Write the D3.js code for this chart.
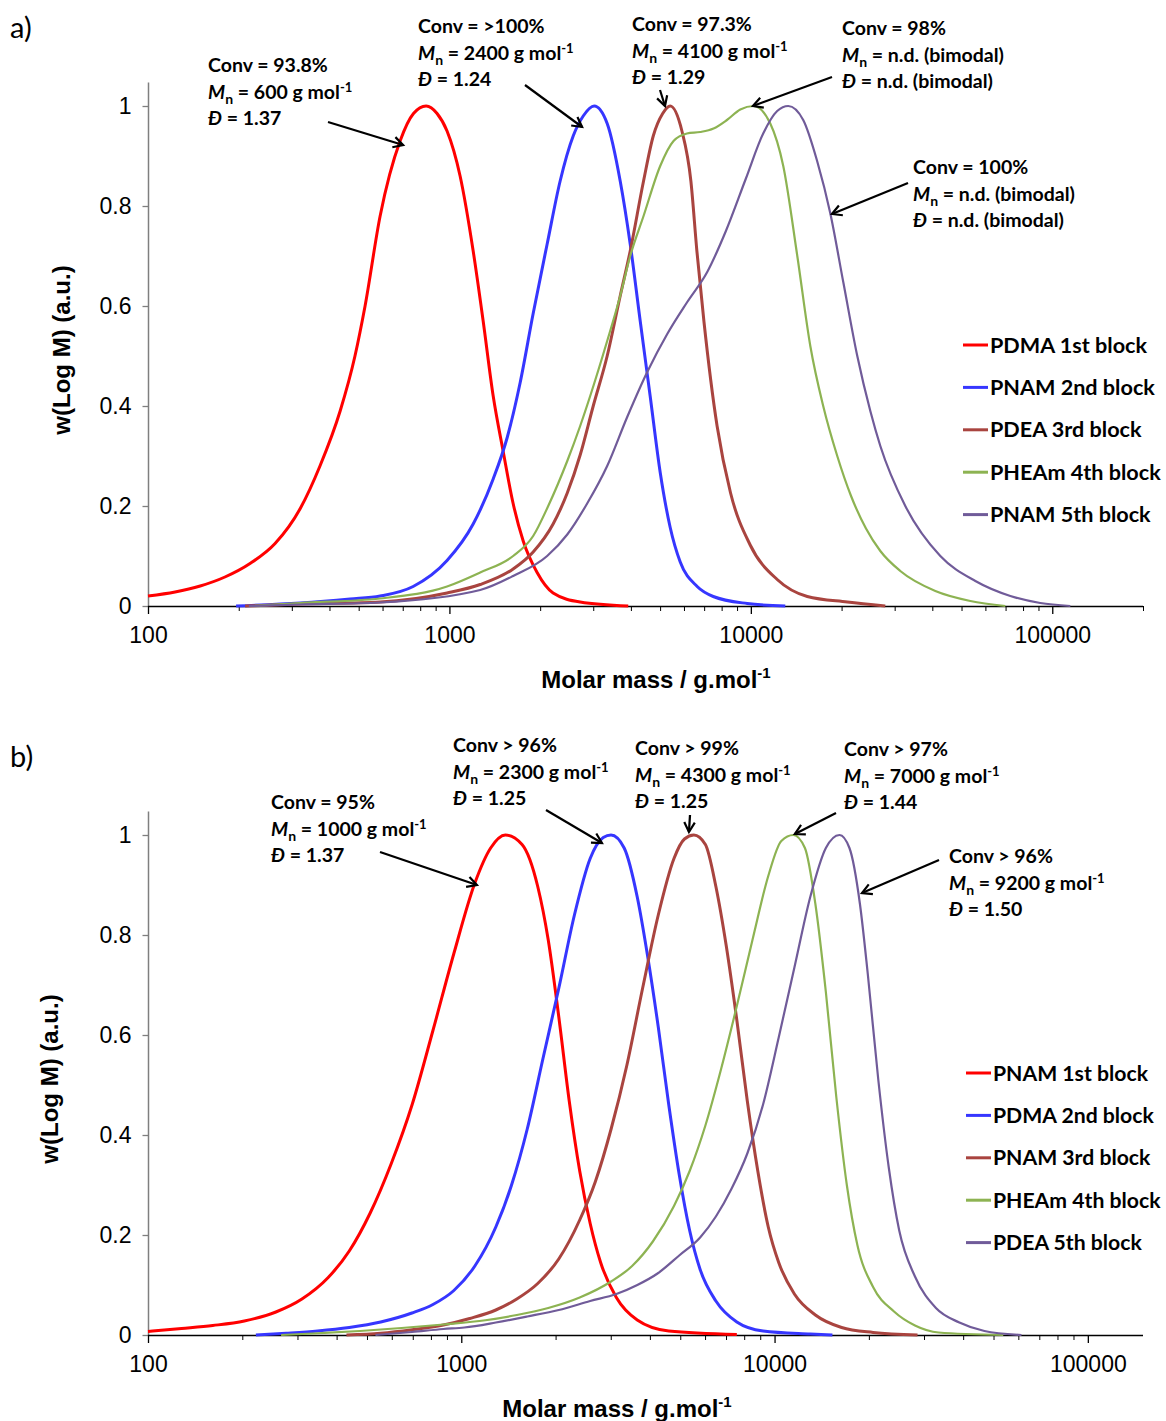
<!DOCTYPE html>
<html><head><meta charset="utf-8">
<script src="https://cdn.jsdelivr.net/npm/d3@7"></script>
<style>body{margin:0;background:#fff}</style>
</head><body><svg id="c" width="1166" height="1421" xmlns="http://www.w3.org/2000/svg"></svg>
<script>
// ---------- DATA ----------
const xTickValues = [100, 1000, 10000, 100000];
const xTickLabels = ["100", "1000", "10000", "100000"];
const yTickValues = [0, 0.2, 0.4, 0.6, 0.8, 1];
const yTickLabels = ["0", "0.2", "0.4", "0.6", "0.8", "1"];

// Panel a) [molar mass, w(log M)]
const aPDMA1 = [[100,0.020],[123,0.028],[149,0.040],[180,0.058],[218,0.085],[264,0.125],[320,0.195],[372,0.28],[434,0.39],[486,0.50],[525,0.60],[589,0.78],[686,0.93],[760,0.985],[837,1.0],[910,0.985],[982,0.95],[1085,0.86],[1199,0.71],[1294,0.57],[1397,0.42],[1507,0.31],[1627,0.205],[1757,0.13],[1954,0.067],[2208,0.026],[2715,0.008],[3920,0.0]];
const aPNAM2 = [[196,0.0],[320,0.006],[468,0.014],[589,0.02],[758,0.039],[982,0.091],[1199,0.164],[1397,0.254],[1555,0.337],[1717,0.447],[1896,0.585],[2110,0.724],[2330,0.85],[2574,0.94],[2779,0.98],[3022,1.0],[3337,0.965],[3686,0.85],[3979,0.724],[4295,0.57],[4634,0.42],[5004,0.267],[5401,0.157],[5831,0.088],[6637,0.039],[7503,0.019],[9727,0.005],[13010,0.0]];
const aPDEA3 = [[210,0],[320,0.004],[589,0.008],[982,0.026],[1265,0.043],[1627,0.074],[1896,0.108],[2208,0.164],[2460,0.226],[2715,0.302],[3000,0.40],[3337,0.50],[3686,0.62],[3979,0.71],[4406,0.85],[4745,0.94],[5100,0.985],[5401,1.0],[5906,0.95],[6325,0.85],[6622,0.71],[6986,0.57],[7727,0.36],[8565,0.226],[9950,0.122],[12230,0.053],[15390,0.019],[20890,0.008],[27930,0.0]];
const aPHEAm4 = [[223,0],[320,0.006],[589,0.015],[982,0.039],[1265,0.067],[1627,0.10],[1896,0.14],[2127,0.2],[2460,0.29],[2715,0.36],[2931,0.42],[3337,0.53],[3686,0.62],[3979,0.70],[4406,0.78],[5004,0.88],[5540,0.93],[6138,0.945],[6796,0.948],[7520,0.955],[8330,0.972],[9226,0.993],[10213,1.0],[11600,0.965],[12810,0.88],[14260,0.70],[15750,0.52],[17380,0.40],[19350,0.30],[21500,0.22],[24100,0.155],[26890,0.11],[31320,0.07],[40930,0.03],[53480,0.01],[69860,0]];
const aPNAM5 = [[216,0],[320,0.003],[589,0.007],[1265,0.032],[1627,0.06],[2110,0.10],[2460,0.143],[2864,0.205],[3337,0.28],[3889,0.378],[4532,0.468],[5280,0.544],[6152,0.608],[7166,0.668],[8265,0.75],[9630,0.855],[10990,0.945],[12230,0.99],[13310,1.0],[14920,0.972],[16610,0.889],[18340,0.786],[20260,0.648],[22550,0.50],[24910,0.39],[26890,0.32],[32540,0.2],[42520,0.1],[55570,0.05],[72600,0.02],[91200,0.006],[114800,0]];

// Panel b)
const bPNAM1 = [[100,0.007],[128,0.013],[161,0.019],[203,0.028],[256,0.046],[310,0.072],[376,0.115],[439,0.168],[512,0.244],[597,0.342],[697,0.461],[812,0.609],[947,0.763],[1105,0.904],[1241,0.974],[1382,1.0],[1563,0.981],[1754,0.897],[1895,0.79],[2047,0.637],[2211,0.468],[2388,0.328],[2579,0.223],[2785,0.145],[3126,0.075],[3645,0.03],[4594,0.008],[7578,0.001]];
const bPDMA2 = [[221,0],[276,0.0035],[348,0.008],[439,0.015],[553,0.026],[696,0.044],[812,0.061],[947,0.089],[1105,0.138],[1289,0.216],[1447,0.30],[1624,0.412],[1823,0.553],[2047,0.693],[2297,0.84],[2579,0.953],[2839,0.995],[3006,1.0],[3311,0.974],[3645,0.876],[3938,0.756],[4254,0.616],[4594,0.461],[4962,0.321],[5358,0.209],[5787,0.131],[6497,0.068],[7578,0.026],[9190,0.008],[13000,0.002],[15300,0]];
const bPNAM3 = [[430,0],[553,0.0035],[696,0.0105],[877,0.02],[1064,0.033],[1289,0.05],[1504,0.072],[1754,0.103],[2047,0.152],[2388,0.23],[2680,0.307],[3008,0.412],[3376,0.539],[3790,0.693],[4254,0.84],[4775,0.953],[5157,0.992],[5526,1.0],[6015,0.981],[6497,0.897],[7017,0.777],[7578,0.63],[8185,0.468],[8841,0.328],[9548,0.216],[10310,0.145],[11570,0.082],[13500,0.04],[16370,0.015],[20630,0.005],[28600,0]];
const bPHEAm4 = [[266,0],[348,0.0035],[474,0.008],[645,0.014],[877,0.021],[1194,0.0295],[1504,0.04],[1895,0.054],[2388,0.075],[3008,0.107],[3510,0.138],[4093,0.1875],[4775,0.258],[5358,0.328],[6015,0.419],[6751,0.532],[7578,0.658],[8508,0.791],[9548,0.918],[10510,0.988],[11480,1.0],[12500,0.974],[13500,0.862],[14580,0.686],[15750,0.475],[17010,0.30],[18380,0.18],[20630,0.096],[24060,0.047],[28070,0.019],[33380,0.005],[53700,0]];
const bPDEA5 = [[532,0],[696,0.006],[877,0.012],[1023,0.015],[1289,0.025],[1624,0.037],[2047,0.05],[2579,0.068],[3126,0.082],[3647,0.10],[4254,0.124],[4962,0.159],[5787,0.195],[6497,0.237],[7295,0.293],[8185,0.363],[9190,0.461],[10310,0.595],[11570,0.735],[13000,0.876],[14580,0.974],[16120,1.0],[17340,0.974],[18730,0.862],[19850,0.721],[21440,0.51],[23150,0.335],[25000,0.209],[28070,0.117],[32740,0.054],[38900,0.025],[46770,0.008],[61400,0]];

const aNames = ["PDMA 1st block","PNAM 2nd block","PDEA 3rd block","PHEAm 4th block","PNAM 5th block"];
const bNames = ["PNAM 1st block","PDMA 2nd block","PNAM 3rd block","PHEAm 4th block","PDEA 5th block"];

// annotations: [conv text, Mn value text, dispersity text, target M, target w]
const aNotes = [
  ["Conv = 93.8%", "= 600 g mol", "= 1.37", 702, 0.922],
  ["Conv = >100%", "= 2400 g mol", "= 1.24", 2755, 0.958],
  ["Conv = 97.3%", "= 4100 g mol", "= 1.29", 5190, 1.0],
  ["Conv = 98%", "= n.d. (bimodal)", "= n.d. (bimodal)", 10160, 1.0],
  ["Conv = 100%", "= n.d. (bimodal)", "= n.d. (bimodal)", 18580, 0.784]
];
const bNotes = [
  ["Conv = 95%", "= 1000 g mol", "= 1.37", 1122, 0.90],
  ["Conv > 96%", "= 2300 g mol", "= 1.25", 2812, 0.984],
  ["Conv > 99%", "= 4300 g mol", "= 1.25", 5330, 1.006],
  ["Conv > 97%", "= 7000 g mol", "= 1.44", 11610, 1.002],
  ["Conv > 96%", "= 9200 g mol", "= 1.50", 19010, 0.884]
];

// ---------- STYLE / LAYOUT ----------
const colors = ["#ff0000", "#3636ff", "#a9443f", "#8db352", "#705b99"];
const widths = [3, 3, 3, 2.2, 2.2];
const tickFont = "'Liberation Sans', Arial, sans-serif";
const noteFont = "Lato, 'Open Sans', sans-serif";

const svg = d3.select("#c");
svg.append("rect").attr("width", 1166).attr("height", 1421).attr("fill", "#fff");

function panel(cfg) {
  const g = svg.append("g");
  const x = d3.scaleLog().domain(cfg.xDomain).range([148, 1143]);
  const y = d3.scaleLinear().domain([0, 1]).range([cfg.y0, cfg.y0 - 500]);

  // y axis line
  g.append("line").attr("x1", 148.5).attr("x2", 148.5).attr("y1", y(0)).attr("y2", y(1.047))
    .attr("stroke", "#7f7f7f").attr("stroke-width", 1.5);
  const yAx = d3.axisLeft(y).tickValues(yTickValues).tickFormat((d, i) => yTickLabels[i]).tickSize(6).tickPadding(12);
  const yg = g.append("g").attr("transform", "translate(148.5,0)").call(yAx);
  yg.select(".domain").remove();
  yg.selectAll(".tick line").attr("stroke", "#7f7f7f").attr("stroke-width", 1.3);
  yg.selectAll(".tick text").attr("font-family", tickFont).attr("font-size", 23).attr("fill", "#000")
    .attr("transform", "translate(1,0)");

  // x axis
  const minor = [];
  for (let e = 2; e <= 5; e++) for (let k = 2; k <= 9; k++) { const v = k * Math.pow(10, e); if (v <= cfg.xDomain[1]) minor.push(v); }
  const xMinor = d3.axisBottom(x).tickValues(minor).tickFormat("").tickSize(5);
  const xm = g.append("g").attr("transform", `translate(0,${y(0)})`).call(xMinor);
  xm.select(".domain").remove();
  xm.selectAll(".tick line").attr("stroke", "#000").attr("stroke-width", 1);
  const xAx = d3.axisBottom(x).tickValues(xTickValues).tickFormat((d, i) => xTickLabels[i]).tickSize(8).tickPadding(13);
  const xg = g.append("g").attr("transform", `translate(0,${y(0)})`).call(xAx);
  xg.select(".domain").remove();
  xg.selectAll(".tick line").attr("stroke", "#000").attr("stroke-width", 1.3);
  xg.selectAll(".tick text").attr("font-family", tickFont).attr("font-size", 23).attr("fill", "#000");
  g.append("line").attr("x1", 148).attr("x2", 1143).attr("y1", y(0) + 0.5).attr("y2", y(0) + 0.5)
    .attr("stroke", "#000").attr("stroke-width", 1.6);

  // curves
  const line = d3.line().x(d => x(d[0])).y(d => y(d[1])).curve(d3.curveMonotoneX);
  cfg.series.forEach((s, i) => {
    g.append("path").attr("d", line(s)).attr("fill", "none").attr("stroke", colors[i])
      .attr("stroke-width", widths[i]).attr("stroke-linejoin", "round");
  });

  // axis titles
  g.append("text").attr("transform", `translate(${cfg.yTitleX},${cfg.y0 - 256}) rotate(-90)`)
    .attr("text-anchor", "middle").attr("font-family", tickFont).attr("font-weight", "bold")
    .attr("font-size", 24).text("w(Log M) (a.u.)");
  const xt = g.append("text").attr("x", cfg.xTitleX).attr("y", cfg.y0 + 82).attr("text-anchor", "middle")
    .attr("font-family", tickFont).attr("font-weight", "bold").attr("font-size", 24);
  xt.append("tspan").text("Molar mass / g.mol");
  xt.append("tspan").attr("dy", -10).attr("font-size", 15).text("-1");

  // panel label
  g.append("text").attr("x", 10).attr("y", cfg.y0 - 568).attr("font-family", noteFont)
    .attr("font-size", 29).text(cfg.label);

  // legend
  cfg.names.forEach((n, i) => {
    const cy = cfg.legY + i * 42.4;
    g.append("line").attr("x1", cfg.legX).attr("x2", cfg.legX + 25).attr("y1", cy).attr("y2", cy)
      .attr("stroke", colors[i]).attr("stroke-width", 3);
    g.append("text").attr("x", cfg.legX + 27).attr("y", cy + 7.5).attr("font-family", noteFont)
      .attr("font-weight", "bold").attr("font-size", cfg.legSize).text(n);
  });

  // annotations
  cfg.notes.forEach((nt, i) => {
    const p = cfg.notePos[i];
    const t = g.append("g").attr("font-family", noteFont).attr("font-weight", "bold").attr("font-size", 19.5);
    t.append("text").attr("x", p[0]).attr("y", p[1]).text(nt[0]);
    const l2 = t.append("text").attr("x", p[0]).attr("y", p[1] + 26.5);
    l2.append("tspan").attr("font-style", "italic").text("M");
    l2.append("tspan").attr("dy", 5).attr("font-size", 14).text("n");
    l2.append("tspan").attr("dy", -5).text(" " + nt[1]);
    if (nt[1].indexOf("mol") >= 0) l2.append("tspan").attr("dy", -7).attr("font-size", 13).text("-1");
    const l3 = t.append("text").attr("x", p[0]).attr("y", p[1] + 53);
    l3.append("tspan").attr("font-style", "italic").text("Đ");
    l3.append("tspan").text(" " + nt[2]);
    // arrow
    const tx = p[2], ty = p[3], hx = x(nt[3]), hy = y(nt[4]);
    const ang = Math.atan2(hy - ty, hx - tx);
    g.append("line").attr("x1", tx).attr("y1", ty).attr("x2", hx).attr("y2", hy)
      .attr("stroke", "#000").attr("stroke-width", 2.2);
    const L = 11, a = 0.5;
    g.append("path").attr("d", `M${hx - L * Math.cos(ang - a)},${hy - L * Math.sin(ang - a)} L${hx},${hy} L${hx - L * Math.cos(ang + a)},${hy - L * Math.sin(ang + a)}`)
      .attr("fill", "none").attr("stroke", "#000").attr("stroke-width", 2.2);
  });
}

panel({
  label: "a)", xDomain: [100, 200000], y0: 606, series: [aPDMA1, aPNAM2, aPDEA3, aPHEAm4, aPNAM5],
  names: aNames, legX: 963, legY: 345, legSize: 21.6, yTitleX: 70, xTitleX: 656, notes: aNotes,
  notePos: [[208, 72, 328, 122], [418, 33, 525, 85], [632, 31, 660, 90], [842, 35, 832, 77], [913, 174, 908, 183]]
});
panel({
  label: "b)", xDomain: [100, 150000], y0: 1335, series: [bPNAM1, bPDMA2, bPNAM3, bPHEAm4, bPDEA5],
  names: bNames, legX: 966, legY: 1073, legSize: 21.2, yTitleX: 58, xTitleX: 617, notes: bNotes,
  notePos: [[271, 809, 380, 852], [453, 752, 546, 810], [635, 755, 690, 815], [844, 756, 836, 813], [949, 863, 939, 860]]
});
</script></body></html>
